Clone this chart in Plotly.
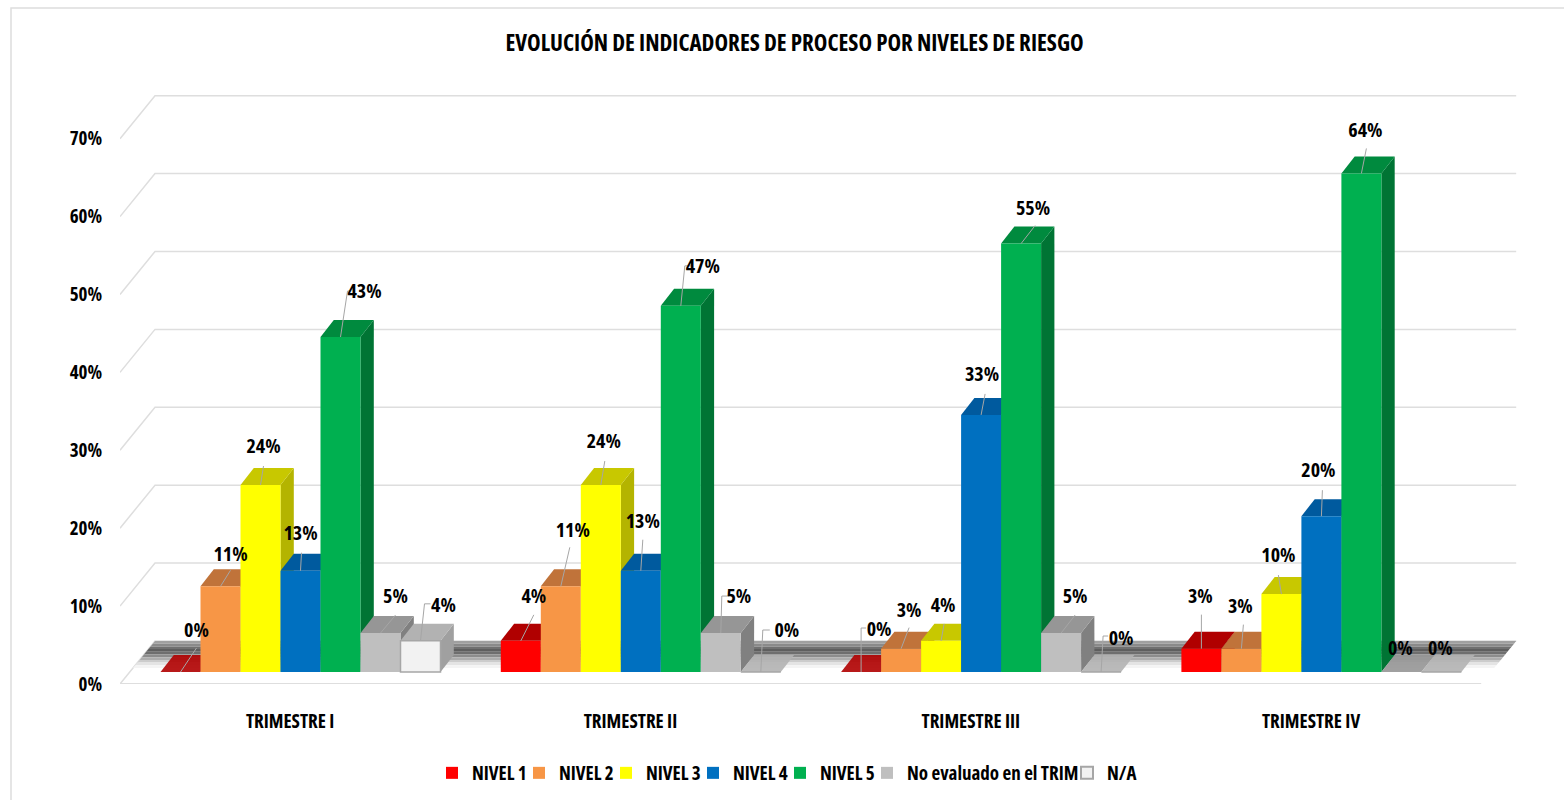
import plotly.graph_objects as go

W, H = 1564, 800

categories = ["TRIMESTRE I", "TRIMESTRE II", "TRIMESTRE III", "TRIMESTRE IV"]
series_names = ["NIVEL 1", "NIVEL 2", "NIVEL 3", "NIVEL 4", "NIVEL 5", "No evaluado en el TRIM", "N/A"]
nivel_1 = [0, 4, 0, 3]
nivel_2 = [11, 11, 3, 3]
nivel_3 = [24, 24, 4, 10]
nivel_4 = [13, 13, 33, 20]
nivel_5 = [43, 47, 55, 64]
no_evaluado = [5, 5, 5, 0]
n_a = [4, 0, 0, 0]
series_values = [nivel_1, nivel_2, nivel_3, nivel_4, nivel_5, no_evaluado, n_a]
y_ticks = [0, 10, 20, 30, 40, 50, 60, 70]
y_tick_labels = ["0%", "10%", "20%", "30%", "40%", "50%", "60%", "70%"]

front_colors = ["#FF0000", "#F79646", "#FFFF00", "#0070C0", "#00B050", "#BFBFBF", "#F2F2F2"]
top_colors = ["#B00000", "#C0733A", "#C8C800", "#005A9E", "#008A3E", "#969696", "#B2B2B2"]
side_colors = ["#8C0000", "#A8622F", "#B4B400", "#004F8A", "#007434", "#808080", "#A0A0A0"]

# Pixel geometry of the pseudo-3D projection
PLOT_L, PLOT_R, PLOT_T, PLOT_B = 120, 1520, 60, 684
GROUP_PX = 340.3
PCT_PX = 7.79
BAR_PX = 40.0
BAR_CENTER0 = 300.5     # centre of first group in the bar plane
BAR_BASE = 672          # y pixel of 0% in the bar plane
DEPTH_X, DEPTH_Y = 13.3, 17.0
FLOOR_DX, FLOOR_DY = 35.0, 43.0

FONT = "Open Sans, Lato, sans-serif"

# Text and leader offsets from the top centre of each bar, in pixels (right, up)
label_offsets = [
    [(16, 42), (10, 32), (3, 39), (0, 38), (24, 46), (15, 37), (23, 36)],
    [(13, 45), (12, 56), (3, 44), (2, 50), (22, 40), (18, 37), (26, 42)],
    [(18, 43), (8, 39), (2, 36), (1, 41), (12, 36), (14, 37), (20, 34)],
    [(-1, 53), (-1, 43), (-3, 39), (-3, 46), (4, 43), (-1, 24), (-1, 24)],
]
leader_paths = [
    [[(16, 24)], [(10, 16)], [(3, 19)], [(1, 18)], [(7, 46), (10, 46)], [(15, 18)], [(4, 37), (10, 37)]],
    [[(13, 26)], [(9, 39)], [(4, 24)], [(2, 31)], [(4, 40), (10, 40)], [(1, 37), (8, 37)], [(2, 42), (9, 42)]],
    [[(0, 44), (5, 44)], [(8, 21)], [(3, 17)], [(4, 21)], [(14, 18)], [(14, 18)], [(2, 36), (7, 36)]],
    [[(0, 34)], [(2, 24)], [(-3, 19)], [(1, 26)], [(5, 25)], [], []],
]

# Grey gradient band on the floor, back to front
band_grays = ["#A0A0A0", "#8A8A8A", "#707070", "#5E5E5E", "#6E6E6E",
              "#8C8C8C", "#ADADAD", "#CCCCCC", "#E4E4E4", "#F4F4F4"]

# Axis conversion helpers (pixels to the main axes' data units)
x_lo = (PLOT_L - BAR_CENTER0) / GROUP_PX
x_hi = (PLOT_R - BAR_CENTER0) / GROUP_PX
y_lo = (BAR_BASE - PLOT_B) / PCT_PX
y_hi = (BAR_BASE - PLOT_T) / PCT_PX
x2_lo = -0.5
x2_hi = x2_lo + (PLOT_R - PLOT_L) / GROUP_PX
y2_lo, y2_hi = 0, (PLOT_B - PLOT_T) / PCT_PX


def dx(px):
    return px / GROUP_PX


def dy(px):
    return px / PCT_PX


def poly(points, fill, opacity=1.0, line=None, width=0):
    path = "M" + "L".join(f"{x:.5f},{y:.5f}" for x, y in points) + "Z"
    return dict(type="path", xref="x", yref="y", path=path, fillcolor=fill,
                opacity=opacity, layer="below",
                line=dict(color=line or fill, width=width))


def seg(points, color, width=1.5):
    path = "M" + "L".join(f"{x:.5f},{y:.5f}" for x, y in points)
    return dict(type="path", xref="x", yref="y", path=path, layer="below",
                line=dict(color=color, width=width))


shapes = []
# page frame
shapes.append(dict(type="path", xref="paper", yref="paper",
                   path=f"M{11/W},0L{11/W},{1-8/H}L1,{1-8/H}", layer="below",
                   line=dict(color="#DDDDDD", width=1.5)))

# walls in main-axis units
front_l = x_lo
front_r = front_l + dx(GROUP_PX * len(categories))
front_y0 = y_lo
for t in y_ticks:
    y_front = front_y0 + t
    y_back = y_front + dy(FLOOR_DY)
    shapes.append(seg([(front_l, y_front), (front_l + dx(FLOOR_DX), y_back),
                       (front_r + dx(FLOOR_DX), y_back)], "#DEDEDE"))
# floor front edge
shapes.append(seg([(front_l, front_y0), (front_r, front_y0)], "#DEDEDE", 2))

# floor band
row = 2.7
for k, gray in enumerate(band_grays):
    up0, up1 = FLOOR_DY - k * row, FLOOR_DY - (k + 1) * row
    shapes.append(poly([
        (front_l + dx(up0 * FLOOR_DX / FLOOR_DY), front_y0 + dy(up0)),
        (front_r + dx(up0 * FLOOR_DX / FLOOR_DY), front_y0 + dy(up0)),
        (front_r + dx(up1 * FLOOR_DX / FLOOR_DY), front_y0 + dy(up1)),
        (front_l + dx(up1 * FLOOR_DX / FLOOR_DY), front_y0 + dy(up1)),
    ], gray))

bw = dx(BAR_PX)
n = len(series_values)
groups = list(range(len(categories)))
for g in groups:
    for j, values in enumerate(series_values):
        v = values[g]
        x0 = g + (j - n / 2) * bw
        x1 = x0 + bw
        ddx, ddy = dx(DEPTH_X), dy(DEPTH_Y)
        if v > 0:
            shapes.append(poly([(x1, 0), (x1 + ddx, ddy), (x1 + ddx, v + ddy), (x1, v)], side_colors[j]))
        shapes.append(poly([(x0, v), (x1, v), (x1 + ddx, v + ddy), (x0 + ddx, v + ddy)],
                           top_colors[j], opacity=1.0 if v > 0 else 0.9))

fig = go.Figure()

for j, values in enumerate(series_values):
    fig.add_trace(go.Bar(
        name=series_names[j], x=groups, y=values, xaxis="x", yaxis="y",
        marker=dict(color=front_colors[j],
                    line=dict(color="#A6A6A6" if j == n - 1 else front_colors[j],
                              width=1.5 if j == n - 1 else 0)),
        legendwidth=[42, 42, 42, 42, 42, 155, 30][j],
    ))

# leaders and data labels
lx, ly = [], []
for g in groups:
    for j, values in enumerate(series_values):
        cx = g + (j - (n - 1) / 2) * bw
        v = values[g]
        pts = leader_paths[g][j]
        if pts:
            lx.append(cx); ly.append(v)
            for ox, oy in pts:
                lx.append(cx + dx(ox)); ly.append(v + dy(oy))
            lx.append(None); ly.append(None)
fig.add_trace(go.Scatter(x=lx, y=ly, mode="lines", xaxis="x", yaxis="y", showlegend=False,
                         hoverinfo="skip", line=dict(color="#A6A6A6", width=1),
                         cliponaxis=False))
for j, values in enumerate(series_values):
    xs, ys, texts = [], [], []
    for g, v in enumerate(values):
        ox, oy = label_offsets[g][j]
        xs.append(g + (j - (n - 1) / 2) * bw + dx(ox))
        ys.append(v + dy(oy - 2))
        texts.append(f"{v}%")
    fig.add_trace(go.Scatter(x=xs, y=ys, text=texts, mode="text", textposition="middle center",
                             xaxis="x", yaxis="y", showlegend=False, hoverinfo="skip",
                             textfont=dict(family=FONT, size=20, color="#000000", weight=700),
                             cliponaxis=False))

# carrier for the front-plane axes
fig.add_trace(go.Scatter(x=[0], y=[0], xaxis="x2", yaxis="y2", mode="none",
                         showlegend=False, hoverinfo="skip"))

dom_x = [PLOT_L / W, PLOT_R / W]
dom_y = [1 - PLOT_B / H, 1 - PLOT_T / H]
tick_font = dict(family=FONT, size=19, color="#000000", weight=700)

fig.update_layout(
    width=W, height=H,
    margin=dict(l=0, r=0, t=0, b=0, pad=0, autoexpand=False),
    paper_bgcolor="#FFFFFF", plot_bgcolor="rgba(0,0,0,0)",
    barmode="group", bargap=1 - n * bw, bargroupgap=0,
    shapes=shapes,
    showlegend=True,
    legend=dict(orientation="h", x=432 / W, xanchor="left", y=1 - 773 / H, yanchor="middle",
                traceorder="normal", itemclick=False, itemdoubleclick=False,
                font=dict(family=FONT, size=19, color="#000000", weight=700),
                bgcolor="rgba(0,0,0,0)", itemsizing="constant", tracegroupgap=0),
    xaxis=dict(domain=dom_x, range=[x_lo, x_hi], visible=False, fixedrange=True),
    yaxis=dict(domain=dom_y, range=[y_lo, y_hi], visible=False, fixedrange=True),
    xaxis2=dict(domain=dom_x, type="linear", range=[x2_lo, x2_hi], overlaying="x", anchor="y2",
                side="bottom", tickmode="array", tickvals=groups,
                ticktext=categories, showgrid=False, zeroline=False, showline=False,
                ticks="outside", ticklen=20, tickcolor="rgba(0,0,0,0)",
                tickfont=dict(family=FONT, size=19, color="#000000", weight=700), fixedrange=True),
    yaxis2=dict(domain=dom_y, range=[y2_lo, y2_hi], overlaying="y", anchor="x2", side="left",
                tickmode="array", tickvals=y_ticks, ticktext=y_tick_labels, showgrid=False,
                zeroline=False, showline=False, ticks="outside", ticklen=13,
                tickcolor="rgba(0,0,0,0)", tickfont=tick_font, fixedrange=True),
    annotations=[dict(text="EVOLUCIÓN DE INDICADORES DE PROCESO POR NIVELES DE RIESGO",
                      xref="paper", yref="paper", x=794 / W, y=1 - 42 / H, xanchor="center",
                      yanchor="middle", showarrow=False,
                      font=dict(family=FONT, size=23, color="#000000", weight=700))],
)

fig.write_html("out.html",
               post_script="document.body.style.margin='0';document.documentElement.style.overflow='hidden';"
                           "var s=document.createElement('style');s.textContent='svg text{font-stretch:75%!important}';document.head.appendChild(s);",
               config=dict(displayModeBar=False))
